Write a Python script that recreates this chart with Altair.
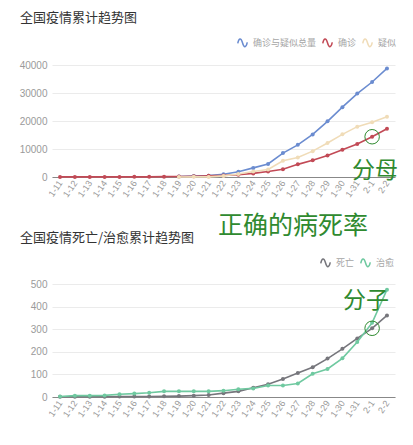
import altair as alt
import pandas as pd

dates = ["1-11", "1-12", "1-13", "1-14", "1-15", "1-16", "1-17", "1-18", "1-19", "1-20",
         "1-21", "1-22", "1-23", "1-24", "1-25", "1-26", "1-27", "1-28", "1-29", "1-30",
         "1-31", "2-1", "2-2"]

# top chart
confirmed = [41, 41, 41, 41, 41, 45, 62, 121, 198, 291, 440, 571, 830, 1287, 1975,
             2744, 4515, 5974, 7711, 9692, 11791, 14380, 17205]
late_dates = dates[8:]
suspected = [0, 54, 37, 393, 1072, 1965, 2684, 5794, 6973, 9239, 12167, 15238, 17988,
             19544, 21558]
total = [198, 345, 477, 964, 1902, 3252, 4659, 8538, 11488, 15213, 19878, 24930,
         29779, 33924, 38763]

# bottom chart
deaths = [1, 1, 1, 1, 2, 2, 2, 3, 4, 6, 9, 17, 25, 41, 56, 80, 106, 132, 170, 213,
          259, 304, 361]
cured = [2, 6, 6, 7, 12, 15, 19, 25, 25, 25, 25, 28, 34, 38, 51, 51, 60, 103, 124,
         171, 243, 328, 475]

top_names = ["确诊与疑似总量", "确诊", "疑似"]
top_colors = ["#6b8cd0", "#c24a56", "#f0dcb8"]
bot_names = ["死亡", "治愈"]
bot_colors = ["#76767c", "#6fc9a0"]
top_ticks = [0, 10000, 20000, 30000, 40000]
bot_ticks = [0, 100, 200, 300, 400, 500]

GREEN = "#2f8a2f"
W, H1, H2 = 343, 112, 113
# wave traced forward and back so that its filled area is empty
WAVE = ("M-1,0.1C-0.75,-1.1 -0.3,-1.1 0,0C0.3,1.1 0.75,1.1 1,-0.1"
        "C0.75,1.1 0.3,1.1 0,0C-0.3,-1.1 -0.75,-1.1 -1,0.1Z")
CJK = "Noto Sans CJK SC"

df_total = pd.DataFrame({"date": late_dates, "value": total, "series": top_names[0]})
df_conf = pd.DataFrame({"date": dates, "value": confirmed, "series": top_names[1]})
df_susp = pd.DataFrame({"date": late_dates, "value": suspected, "series": top_names[2]})
df_death = pd.DataFrame({"date": dates, "value": deaths, "series": bot_names[0]})
df_cure = pd.DataFrame({"date": dates, "value": cured, "series": bot_names[1]})


def x_enc():
    return alt.X("date:N", sort=dates,
                 scale=alt.Scale(type="point", padding=0.54),
                 axis=alt.Axis(title=None, labelAngle=305, labelFontSize=9,
                               labelColor="#9a9a9a", domainColor="#888888",
                               ticks=False, grid=False, labelPadding=4,
                               labelFont="Liberation Sans"))


def y_enc(ticks):
    return alt.Y("value:Q",
                 scale=alt.Scale(domain=[ticks[0], ticks[-1]], nice=False),
                 axis=alt.Axis(title=None, values=ticks, format="d",
                               domain=False, ticks=False, labelColor="#9a9a9a",
                               labelFontSize=10, gridColor="#ebebeb",
                               labelPadding=5, labelFont="Liberation Sans",
                               labelOverlap=False, tickCount=len(ticks)))


def color_enc(names, colors, legend):
    return alt.Color("series:N",
                     scale=alt.Scale(domain=names, range=colors),
                     legend=legend)


def make_legend(lx, ly):
    return alt.Legend(orient="none", legendX=lx, legendY=ly,
                      direction="horizontal", title=None,
                      symbolType=WAVE, symbolSize=90,
                      symbolStrokeWidth=1.5,
                      symbolFillColor="transparent",
                      labelFontSize=9, labelColor="#a5a5a5",
                      labelFont=CJK, columnPadding=2,
                      labelOffset=5, padding=0)


def series_layers(df, ticks, names, colors, lx, ly):
    line = alt.Chart(df).mark_line(strokeWidth=1.6).encode(
        x=x_enc(), y=y_enc(ticks),
        color=color_enc(names, colors, make_legend(lx, ly)))
    pts = alt.Chart(df).mark_circle(size=16, opacity=1).encode(
        x=x_enc(), y=y_enc(ticks),
        color=color_enc(names, colors, None))
    return [line, pts]


def text_layer(txt, x, y, size, color, align="left", weight="normal"):
    return alt.Chart(pd.DataFrame({"t": [txt]})).mark_text(
        align=align, baseline="middle", fontSize=size, color=color,
        font=CJK, fontWeight=weight,
    ).encode(x=alt.value(x), y=alt.value(y), text="t:N")


def circle_layer(date, value, ticks):
    return alt.Chart(pd.DataFrame({"date": [date], "value": [value]})).mark_point(
        shape="circle", size=210, filled=False, stroke=GREEN, strokeWidth=1,
        opacity=1,
    ).encode(x=x_enc(), y=y_enc(ticks))


top = alt.layer(
    *series_layers(df_total, top_ticks, top_names, top_colors, 185, -28),
    *series_layers(df_conf, top_ticks, top_names, top_colors, 185, -28),
    *series_layers(df_susp, top_ticks, top_names, top_colors, 185, -28),
    text_layer("全国疫情累计趋势图", -32, -47, 13, "#333333"),
    circle_layer("2-1", 14380, top_ticks),
    text_layer("分母", 323, 106, 23, GREEN, align="center"),
).properties(width=W, height=H1)

bottom = alt.layer(
    *series_layers(df_death, bot_ticks, bot_names, bot_colors, 268, -27),
    *series_layers(df_cure, bot_ticks, bot_names, bot_colors, 268, -27),
    text_layer("正确的病死率", 241, -58, 25, GREEN, align="center"),
    text_layer("全国疫情死亡/治愈累计趋势图", -32, -46, 13, "#333333"),
    circle_layer("2-1", 304, bot_ticks),
    text_layer("分子", 314, 17, 23, GREEN, align="center"),
).properties(width=W, height=H2)

chart = alt.vconcat(top, bottom, spacing=15).resolve_scale(
    color="independent", y="independent"
).properties(
    padding={"left": 11, "top": 4, "right": 5, "bottom": 4},
    background="white",
).configure_view(stroke=None)

chart.save("out.html", embed_options={"renderer": "svg", "actions": False})
